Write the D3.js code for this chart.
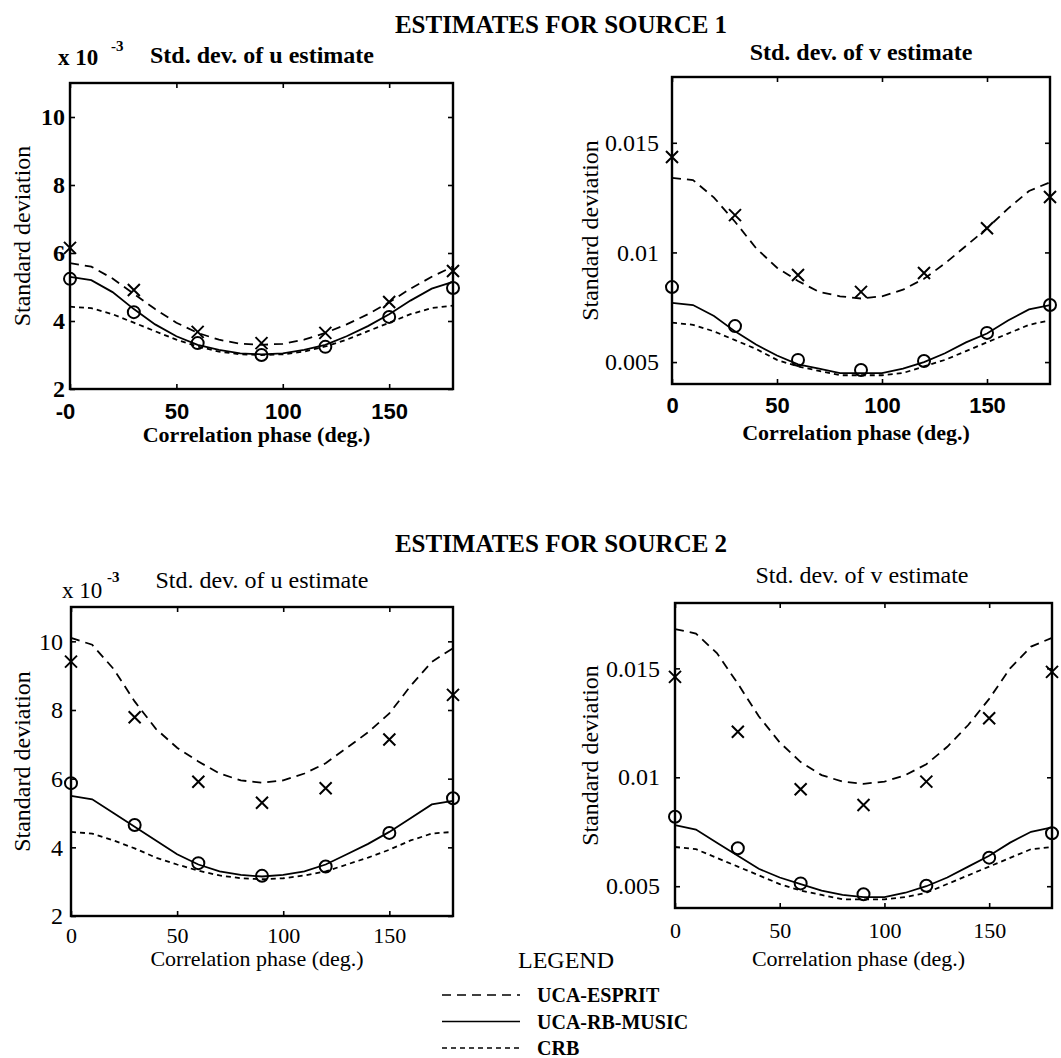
<!DOCTYPE html>
<html>
<head>
<meta charset="utf-8">
<script src="https://cdn.jsdelivr.net/npm/d3@7"></script>
<style>
  body { margin: 0; background: #fff; }
  text { font-family: "Liberation Serif", "Times New Roman", serif; fill: #000; }
</style>
</head>
<body>
<div class="panel"></div>
<script>
// phases where the simulation markers sit, and where the theory curves are sampled
const phaseMarks = [0, 30, 60, 90, 120, 150, 180];
const phaseCurve = [0, 10, 20, 30, 40, 50, 60, 70, 80, 90, 100, 110, 120, 130, 140, 150, 160, 170, 180];
const xTicks = [0, 50, 100, 150];

// source 1, u (x 10^-3)
const s1uEspritSim = [6.15, 4.91, 3.68, 3.35, 3.65, 4.56, 5.47];
const s1uMusicSim  = [5.24, 4.26, 3.35, 3.0, 3.24, 4.12, 4.97];
const s1uEsprit = [5.7, 5.6, 5.25, 4.8, 4.35, 3.95, 3.65, 3.45, 3.33, 3.3, 3.33, 3.45, 3.65, 3.9, 4.2, 4.55, 4.95, 5.3, 5.6];
const s1uMusic  = [5.3, 5.2, 4.85, 4.35, 3.9, 3.55, 3.3, 3.15, 3.05, 3.02, 3.05, 3.15, 3.3, 3.55, 3.85, 4.2, 4.6, 4.95, 5.15];
const s1uCrb    = [4.42, 4.38, 4.2, 3.95, 3.7, 3.45, 3.25, 3.1, 3.02, 3.0, 3.02, 3.1, 3.25, 3.45, 3.7, 3.95, 4.2, 4.38, 4.45];

// source 1, v
const s1vEspritSim = [0.01435, 0.0117, 0.00897, 0.0082, 0.00906, 0.0111, 0.01253];
const s1vMusicSim  = [0.00842, 0.00664, 0.0051, 0.00464, 0.00505, 0.00633, 0.0076];
const s1vEsprit = [0.0134, 0.0133, 0.0125, 0.0114, 0.0102, 0.0093, 0.0087, 0.0082, 0.008, 0.0079, 0.008, 0.0083, 0.0088, 0.0095, 0.0103, 0.0111, 0.012, 0.0128, 0.0132];
const s1vMusic  = [0.0077, 0.0076, 0.0071, 0.0064, 0.0058, 0.0053, 0.0049, 0.0047, 0.0045, 0.0045, 0.0045, 0.0047, 0.005, 0.0054, 0.0059, 0.0063, 0.0069, 0.0074, 0.0076];
const s1vCrb    = [0.0068, 0.0067, 0.0064, 0.006, 0.0056, 0.0051, 0.0048, 0.0046, 0.0044, 0.0044, 0.0044, 0.0045, 0.0048, 0.0051, 0.0055, 0.0059, 0.0063, 0.0067, 0.0069];

// source 2, u (x 10^-3)
const s2uEspritSim = [9.41, 7.79, 5.91, 5.3, 5.72, 7.14, 8.44];
const s2uMusicSim  = [5.87, 4.65, 3.54, 3.17, 3.44, 4.42, 5.43];
const s2uEsprit = [10.1, 9.9, 9.2, 8.25, 7.45, 6.9, 6.5, 6.15, 5.95, 5.88, 5.95, 6.15, 6.45, 6.9, 7.35, 7.9, 8.7, 9.4, 9.8];
const s2uMusic  = [5.5, 5.4, 5.0, 4.6, 4.2, 3.8, 3.5, 3.3, 3.2, 3.15, 3.2, 3.3, 3.5, 3.8, 4.1, 4.45, 4.85, 5.25, 5.35];
const s2uCrb    = [4.45, 4.4, 4.2, 3.97, 3.7, 3.5, 3.32, 3.18, 3.1, 3.07, 3.1, 3.18, 3.3, 3.5, 3.7, 3.93, 4.2, 4.4, 4.45];

// source 2, v
const s2vEspritSim = [0.01461, 0.01209, 0.00945, 0.00873, 0.0098, 0.01271, 0.01484];
const s2vMusicSim  = [0.00819, 0.00674, 0.00513, 0.00463, 0.00502, 0.00631, 0.00743];
const s2vEsprit = [0.0168, 0.0166, 0.0157, 0.0143, 0.0128, 0.0116, 0.0107, 0.0101, 0.0098, 0.0097, 0.0098, 0.0101, 0.0106, 0.0114, 0.0124, 0.0136, 0.015, 0.016, 0.0164];
const s2vMusic  = [0.0078, 0.0076, 0.007, 0.0064, 0.0058, 0.0054, 0.0051, 0.0048, 0.0046, 0.0045, 0.0045, 0.0047, 0.005, 0.0054, 0.0059, 0.0064, 0.007, 0.0075, 0.0077];
const s2vCrb    = [0.0068, 0.0067, 0.0063, 0.0059, 0.0055, 0.0051, 0.0048, 0.0046, 0.0044, 0.0044, 0.0044, 0.0045, 0.0047, 0.0051, 0.0055, 0.0059, 0.0063, 0.0067, 0.0068];

const uTicks = [2, 4, 6, 8, 10];
const vTicks = [0.005, 0.01, 0.015];
const vTickLabels = ["0.005", "0.01", "0.015"];

const legendItems = [
  { name: "UCA-ESPRIT", dash: "9,6" },
  { name: "UCA-RB-MUSIC", dash: null },
  { name: "CRB", dash: "5,4" }
];

const width = 1061;
const height = 1058;

const svg = d3.select(".panel")
  .append("svg")
  .attr("width", width)
  .attr("height", height)
  .attr("viewBox", `0 0 ${width} ${height}`);

const panels = [
  { left: 70, right: 453, top: 83, bottom: 389, yDomain: [2, 11], yTicks: uTicks, yFmt: d => d,
    espSim: s1uEspritSim, musSim: s1uMusicSim, esp: s1uEsprit, mus: s1uMusic, crb: s1uCrb,
    title: "Std. dev. of u estimate", titleX: 262, titleY: 63, bold: true, yGap: 5, xPad: 30,
    xFmt: d => d === 0 ? "-0" : d, ylabX: 30, xlabY: 442, exp: { x: 58, y: 65, sx: 111, sy: 51 } },
  { left: 672, right: 1050, top: 77, bottom: 384, yDomain: [0.004, 0.018], yTicks: vTicks, yFmt: (d, i) => vTickLabels[i],
    espSim: s1vEspritSim, musSim: s1vMusicSim, esp: s1vEsprit, mus: s1vMusic, crb: s1vCrb,
    title: "Std. dev. of v estimate", titleX: 861, titleY: 60, bold: true, yGap: 13, xPad: 29,
    xFmt: d => d, ylabX: 598, xlabY: 440 },
  { left: 71, right: 453, top: 607, bottom: 916, yDomain: [2, 11], yTicks: uTicks, yFmt: d => d,
    espSim: s2uEspritSim, musSim: s2uMusicSim, esp: s2uEsprit, mus: s2uMusic, crb: s2uCrb,
    title: "Std. dev. of u estimate", titleX: 262, titleY: 588, bold: false, yGap: 8, xPad: 27,
    xFmt: d => d, ylabX: 30, xlabY: 966, exp: { x: 62, y: 598, sx: 107, sy: 582 } },
  { left: 675, right: 1052, top: 603, bottom: 908, yDomain: [0.004, 0.018], yTicks: vTicks, yFmt: (d, i) => vTickLabels[i],
    espSim: s2vEspritSim, musSim: s2vMusicSim, esp: s2vEsprit, mus: s2vMusic, crb: s2vCrb,
    title: "Std. dev. of v estimate", titleX: 862, titleY: 583, bold: false, yGap: 15, xPad: 30,
    xFmt: d => d, ylabX: 598, xlabY: 966 }
];

panels.forEach(drawPanel);

svg.append("text")
  .attr("x", 561).attr("y", 33)
  .attr("text-anchor", "middle")
  .style("font-size", "25px").style("font-weight", "bold")
  .text("ESTIMATES FOR SOURCE 1");

svg.append("text")
  .attr("x", 561).attr("y", 552)
  .attr("text-anchor", "middle")
  .style("font-size", "25px").style("font-weight", "bold")
  .text("ESTIMATES FOR SOURCE 2");

makeLegend();

function drawPanel(p){
  const x = d3.scaleLinear().domain([0, 180]).range([p.left, p.right]);
  const y = d3.scaleLinear().domain(p.yDomain).range([p.bottom, p.top]);
  const g = svg.append("g");
  const weight = p.bold ? "bold" : "normal";

  // ticks on all four sides, pointing inward
  const bottomAxis = g.append("g")
    .attr("transform", `translate(0,${p.bottom})`)
    .call(d3.axisBottom(x).tickValues(xTicks).tickSize(-5).tickSizeOuter(0).tickFormat(p.xFmt));
  bottomAxis.selectAll("text")
    .attr("y", p.xPad).attr("dy", 0)
    .attr("dx", d => (p.xFmt(d) === "-0" ? -5 : 0))
    .style("font-size", "22px")
    .style("font-family", p.bold ? "'Liberation Sans', Arial, sans-serif" : null)
    .style("font-weight", weight);

  g.append("g")
    .attr("transform", `translate(0,${p.top})`)
    .call(d3.axisTop(x).tickValues(xTicks).tickSize(-5).tickSizeOuter(0).tickFormat(""));

  const leftAxis = g.append("g")
    .attr("transform", `translate(${p.left},0)`)
    .call(d3.axisLeft(y).tickValues(p.yTicks).tickSize(-5).tickSizeOuter(0).tickFormat(p.yFmt));
  leftAxis.selectAll("text")
    .attr("x", -p.yGap)
    .style("font-size", "24px")
    .style("font-weight", p.yTicks === uTicks && p.bold ? "bold" : "normal");

  g.append("g")
    .attr("transform", `translate(${p.right},0)`)
    .call(d3.axisRight(y).tickValues(p.yTicks).tickSize(-5).tickSizeOuter(0).tickFormat(""));

  g.selectAll(".domain").remove();
  g.selectAll(".tick line").attr("stroke", "#000").attr("stroke-width", 1.6);

  g.append("rect")
    .attr("x", p.left).attr("y", p.top)
    .attr("width", p.right - p.left).attr("height", p.bottom - p.top)
    .attr("fill", "none").attr("stroke", "#000").attr("stroke-width", 2.4);

  const line = d3.line()
    .x((d, i) => x(phaseCurve[i]))
    .y(d => y(d));

  const curves = [
    { values: p.esp, dash: legendItems[0].dash },
    { values: p.mus, dash: legendItems[1].dash },
    { values: p.crb, dash: legendItems[2].dash }
  ];
  g.selectAll(".curve")
    .data(curves)
    .enter()
    .append("path")
    .attr("class", "curve")
    .attr("d", d => line(d.values))
    .attr("fill", "none")
    .attr("stroke", "#000")
    .attr("stroke-width", 1.8)
    .attr("stroke-dasharray", d => d.dash);

  g.selectAll(".xmark")
    .data(p.espSim)
    .enter()
    .append("path")
    .attr("class", "xmark")
    .attr("transform", (d, i) => `translate(${x(phaseMarks[i])},${y(d)})`)
    .attr("d", "M-6,-6L6,6M-6,6L6,-6")
    .attr("stroke", "#000")
    .attr("stroke-width", 2);

  g.selectAll(".omark")
    .data(p.musSim)
    .enter()
    .append("circle")
    .attr("class", "omark")
    .attr("cx", (d, i) => x(phaseMarks[i]))
    .attr("cy", d => y(d))
    .attr("r", 6)
    .attr("fill", "none")
    .attr("stroke", "#000")
    .attr("stroke-width", 2);

  g.append("text")
    .attr("x", p.titleX).attr("y", p.titleY)
    .attr("text-anchor", "middle")
    .style("font-size", "24px").style("font-weight", weight)
    .text(p.title);

  g.append("text")
    .attr("transform", `translate(${p.ylabX},${(p.top + p.bottom) / 2}) rotate(-90)`)
    .attr("text-anchor", "middle")
    .style("font-size", "24px")
    .text("Standard deviation");

  g.append("text")
    .attr("x", (p.left + p.right) / 2 - 5).attr("y", p.xlabY)
    .attr("text-anchor", "middle")
    .style("font-size", "22px").style("font-weight", weight)
    .text("Correlation phase (deg.)");

  if(p.exp){
    g.append("text")
      .attr("x", p.exp.x).attr("y", p.exp.y)
      .style("font-size", "23px").style("font-weight", weight)
      .text("x 10");
    g.append("text")
      .attr("x", p.exp.sx).attr("y", p.exp.sy)
      .style("font-size", "15px").style("font-weight", "bold")
      .text("-3");
  }
}

function makeLegend(){
  svg.append("text")
    .attr("x", 566).attr("y", 968)
    .attr("text-anchor", "middle")
    .style("font-size", "24px")
    .text("LEGEND");

  const rows = svg.selectAll(".legend-row")
    .data(legendItems)
    .enter()
    .append("g")
    .attr("class", "legend-row")
    .attr("transform", (d, i) => `translate(0, ${995 + i * 26.5})`);

  rows.append("line")
    .attr("x1", 442).attr("x2", 520)
    .attr("y1", 0).attr("y2", 0)
    .attr("stroke", "#000")
    .attr("stroke-width", 1.6)
    .attr("stroke-dasharray", d => d.dash);

  rows.append("text")
    .attr("x", 537).attr("y", 7)
    .style("font-size", "20px").style("font-weight", "bold")
    .text(d => d.name);
}
</script>
</body>
</html>
